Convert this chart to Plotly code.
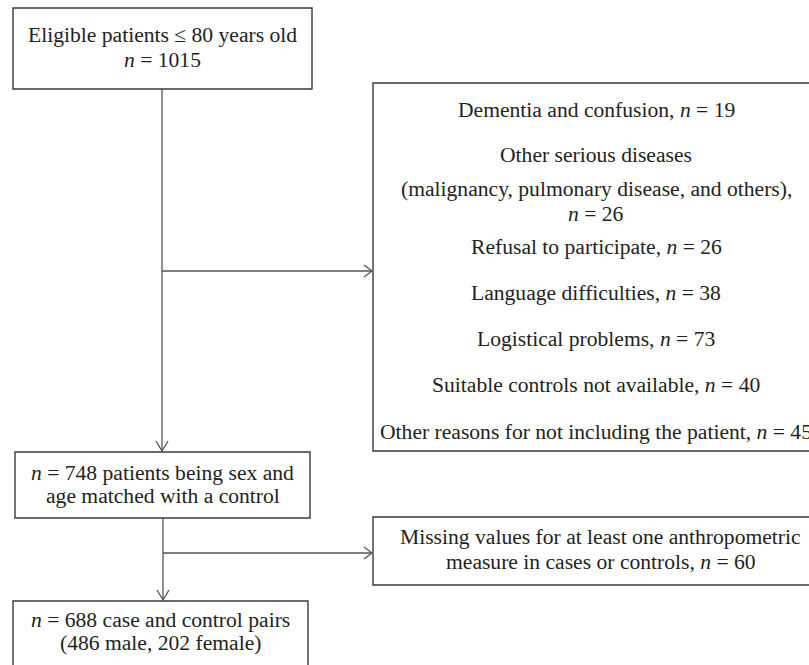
import plotly.graph_objects as go

# ---------------- data ----------------
eligible_n = 1015
exclusion_reasons = [
    ["Dementia and confusion, {n}"],
    ["Other serious diseases", "(malignancy, pulmonary disease, and others),", "{n}"],
    ["Refusal to participate, {n}"],
    ["Language difficulties, {n}"],
    ["Logistical problems, {n}"],
    ["Suitable controls not available, {n}"],
    ["Other reasons for not including the patient, {n}"],
]
exclusion_counts = [19, 26, 26, 38, 73, 40, 45]
matched_n = 748
missing_n = 60
pairs_n = 688
pairs_male = 486
pairs_female = 202

# ---------------- layout (pixel geometry) ----------------
W, H = 809, 665
FONT = "Liberation Serif"
FS = 21.6
TXT = "#231f20"
LINE = "#3a3a3a"
CONN = "#555555"

def nn(v):
    return f"<i>n</i> = {v}"

boxes = {
    "top": (13, 8, 312, 89),
    "excl": (373, 83, 830, 451),
    "mid": (15, 452, 310, 518),
    "miss": (373, 517, 840, 585),
    "bot": (13, 601, 308, 700),
}

fig = go.Figure()
shapes = []
annotations = []

for (x0, y0, x1, y1) in boxes.values():
    shapes.append(dict(type="rect", xref="x", yref="y", x0=x0, y0=y0, x1=x1, y1=y1,
                       line=dict(color=LINE, width=1.4), fillcolor="rgba(0,0,0,0)"))

def text(x, y, s):
    annotations.append(dict(x=x, y=y, xref="x", yref="y", text=s, showarrow=False,
                            xanchor="center", yanchor="middle",
                            font=dict(family=FONT, size=FS, color=TXT)))

# top box
text(162.5, 35, "Eligible patients ≤ 80 years old")
text(162.5, 60, nn(eligible_n))

# exclusion box
excl_y = [110, 155, 189, 214, 247, 293, 339, 385, 432]
lines = []
for reason, c in zip(exclusion_reasons, exclusion_counts):
    for ln in reason:
        lines.append(ln.replace("{n}", nn(c)))
for ln, y in zip(lines, excl_y):
    text(596, y, ln)

# middle box
text(162.5, 473, f"{nn(matched_n)} patients being sex and")
text(162.5, 496, "age matched with a control")

# missing box
text(600.5, 537, "Missing values for at least one anthropometric")
text(600.5, 562, f"measure in cases or controls, {nn(missing_n)}")

# bottom box
text(160.5, 620, f"{nn(pairs_n)} case and control pairs")
text(160.5, 643, f"({pairs_male} male, {pairs_female} female)")

# connectors
def seg(x0, y0, x1, y1):
    shapes.append(dict(type="line", xref="x", yref="y", x0=x0, y0=y0, x1=x1, y1=y1,
                       line=dict(color=CONN, width=1.3)))

def arrow_down(x, y):
    shapes.append(dict(type="path", xref="x", yref="y",
                       path=f"M {x-6},{y-10} L {x},{y} L {x+6},{y-10}",
                       line=dict(color=CONN, width=1.3)))

def arrow_right(x, y):
    shapes.append(dict(type="path", xref="x", yref="y",
                       path=f"M {x-8},{y-6} L {x},{y} L {x-8},{y+6}",
                       line=dict(color=CONN, width=1.3)))

seg(162, 89, 162, 451); arrow_down(162, 451)
seg(162, 271, 372, 271); arrow_right(372, 271)
seg(163, 518, 163, 600); arrow_down(163, 600)
seg(163, 553, 372, 553); arrow_right(372, 553)

fig.update_layout(
    width=W, height=H,
    margin=dict(l=0, r=0, t=0, b=0),
    paper_bgcolor="white", plot_bgcolor="white",
    xaxis=dict(range=[0, W], visible=False, fixedrange=True),
    yaxis=dict(range=[H, 0], visible=False, fixedrange=True),
    shapes=shapes, annotations=annotations, showlegend=False,
)
fig.write_html(
    "out.html",
    config={"displayModeBar": False},
    post_script="document.body.style.margin='0';document.body.style.overflow='hidden';",
)
